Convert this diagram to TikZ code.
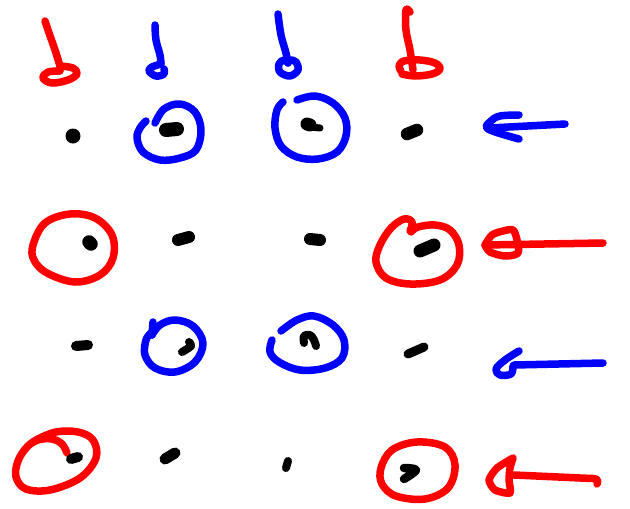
\documentclass[tikz,border=0pt]{standalone}
\usepackage{tikz}
\definecolor{penred}{RGB}{255,0,0}
\definecolor{penblue}{RGB}{0,0,255}
\tikzset{
  pen/.style={line width=7.5pt, line cap=round, line join=round},
  redpen/.style={pen, draw=penred},
  bluepen/.style={pen, draw=penblue},
  blob/.style={line cap=round, line join=round, draw=black},
}
\begin{document}
\begin{tikzpicture}[x=1pt, y=-1pt]
  \fill[white] (0,0) rectangle (630,509);
  \useasboundingbox (0,0) rectangle (630,509);

  % --- top row: pins ---
  \draw[redpen] plot[smooth, tension=0.6] coordinates {(45,21) (48,30) (55,50) (60,66)};
  \draw[redpen] plot[smooth, tension=0.6] coordinates {(60,66) (73,68) (77,74) (68,80) (52,83) (43,78) (48,72) (60,71)};
  \draw[bluepen] plot[smooth, tension=0.6] coordinates {(155,25) (156,40) (160,55) (161,64)};
  \draw[bluepen] plot[smooth, tension=0.6] coordinates {(161,64) (152,67) (149,71) (156,76) (164,74) (164,69)};
  \draw[bluepen] plot[smooth, tension=0.6] coordinates {(278,14) (281,35) (286,53) (288,63)};
  \draw[bluepen] plot[smooth, tension=0.6] coordinates {(288,63) (284,60) (279,64) (280,72) (290,76) (298,70) (296,62) (291,60)};
  \draw[redpen] plot[smooth, tension=0.6] coordinates {(410,12) (406,10) (406,30) (410,50) (413,70)};
  \draw[redpen] plot[smooth, tension=0.6] coordinates {(401,71) (399,66) (404,61) (420,60) (435,63) (440,69) (432,74) (415,76) (402,74)};

  % --- row 1 ---
  \fill[black] (73,136) circle[radius=7.5pt];
  \draw[blob, line width=14pt] (166,130) -- (177,129);
  \draw[bluepen] plot[smooth, tension=0.6] coordinates {(155,123) (164,109) (180,104) (195,112) (201,130) (196,150) (180,158) (160,160) (143,152) (137,138) (140,128) (146,121)};
  \draw[blob, line width=13pt] (307,124) -- (310,125);
  \draw[blob, line width=7pt] (310,127) -- (320,128);
  \draw[bluepen] plot[smooth, tension=0.6] coordinates {(297,100) (315,96) (333,103) (345,118) (346,136) (337,152) (318,159) (297,157) (281,146) (275,128) (277,110) (283,102)};
  \draw[blob, line width=12.5pt] (407,134) -- (417,130);
  \draw[bluepen] (565,124) -- (490,128);
  \draw[bluepen] plot[smooth, tension=0.6] coordinates {(519,115) (500,116) (491,121) (488,129) (519,139)};

  % --- row 2 ---
  \draw[redpen] plot[smooth cycle, tension=0.6] coordinates {(33,245) (45,223) (70,214) (95,218) (112,235) (113,258) (100,275) (75,282) (47,273) (34,260)};
  \draw[blob, line width=13.5pt] (89,242) -- (91,244);
  \draw[blob, line width=12pt] (178,240) -- (189,237);
  \draw[blob, line width=12pt] (310,239) -- (320,240);
  \draw[redpen] plot[smooth, tension=0.6] coordinates {(410,231) (412,222) (404,219) (391,228) (380,245) (376,262) (386,278) (410,284) (440,280) (457,265) (459,245) (450,230) (435,225) (418,227) (411,232)};
  \draw[blob, line width=13pt] (420,251) -- (434,245);
  \draw[redpen] (603,243) -- (485,245);
  \draw[redpen] plot[smooth, tension=0.5] coordinates {(485,245) (492,235) (503,231) (513,230) (517,240) (518,253) (505,256) (490,252) (485,245)};

  % --- row 3 ---
  \draw[blob, line width=10pt] (76,346) -- (88,345);
  \draw[bluepen] (153,322) -- (152,335);
  \draw[bluepen] plot[smooth, tension=0.6] coordinates {(152,335) (160,325) (175,320) (193,326) (203,343) (195,362) (175,372) (155,368) (145,355) (146,340) (151,333)};
  \draw[blob, line width=8pt] plot[smooth, tension=0.6] coordinates {(182,352) (191,346) (189,342)};
  \draw[bluepen] plot[smooth, tension=0.6] coordinates {(272,340) (270,352) (279,362) (300,370) (325,368) (342,358) (344,340) (333,325) (314,316) (297,320) (281,331)};
  \draw[blob, line width=8pt] plot[smooth, tension=0.6] coordinates {(304,343) (304,336) (310,335) (314,340) (316,346)};
  \draw[blob, line width=9pt] (408,354) -- (424,347);
  \draw[bluepen] (603,363) -- (514,365);
  \draw[bluepen] plot[smooth, tension=0.6] coordinates {(519,351) (505,360) (496,369) (500,375) (511,374) (513,366)};

  % --- row 4 ---
  \draw[redpen] plot[smooth, tension=0.6] coordinates {(67,453) (62,444) (52,439) (38,440) (27,447) (18,461) (16,477) (26,489) (50,490) (80,478) (96,458) (93,440) (78,432) (56,432) (36,440) (27,447)};
  \draw[blob, line width=10pt] (71,459) -- (78,457);
  \draw[blob, line width=11pt] (165,459) -- (175,453);
  \draw[blob, line width=8pt] (288,461) -- (286,468);
  \draw[redpen] plot[smooth cycle, tension=0.6] coordinates {(381,468) (392,450) (417,442) (445,447) (455,465) (448,488) (425,499) (396,496) (382,484)};
  \draw[blob, line width=8.5pt] plot[smooth, tension=0.6] coordinates {(404,468) (416,470) (404,479)};
  \draw[redpen] plot[smooth, tension=0.6] coordinates {(597,484) (596,479) (580,478) (514,475)};
  \draw[redpen] plot[smooth, tension=0.4] coordinates {(513,458) (497,468) (489,480) (495,490) (510,493) (509,480) (510,468) (513,458)};
\end{tikzpicture}
\end{document}
